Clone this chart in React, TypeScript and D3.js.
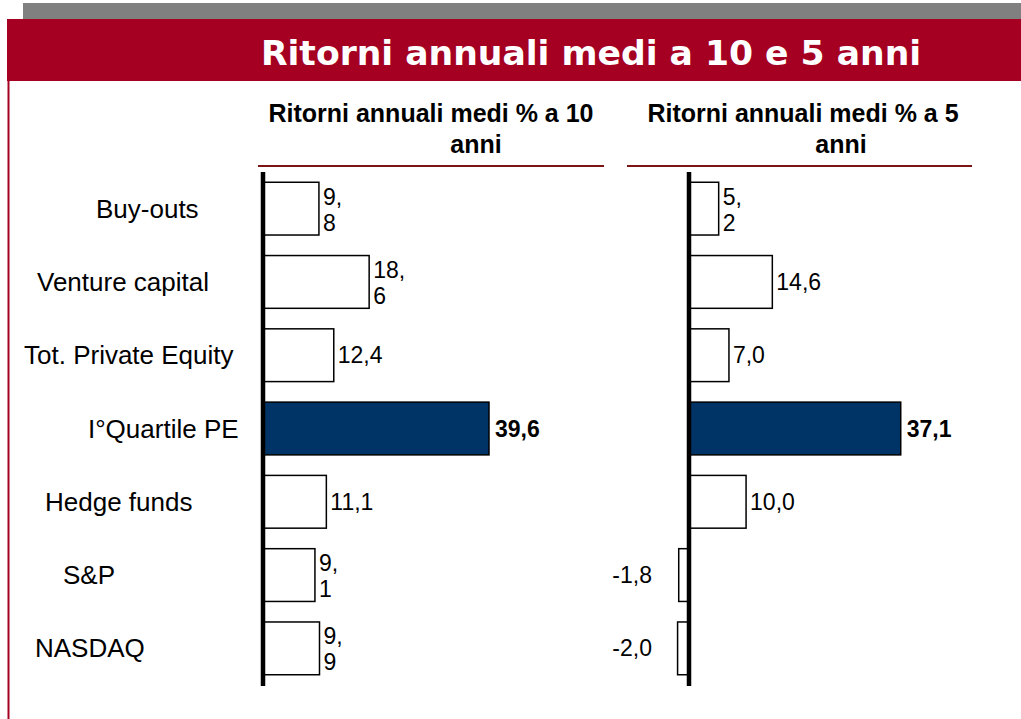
import React from "react";
import * as d3 from "d3";

const categories = ["Buy-outs", "Venture capital", "Tot. Private Equity", "I°Quartile PE", "Hedge funds", "S&P", "NASDAQ"];
const returns10 = [9.8, 18.6, 12.4, 39.6, 11.1, 9.1, 9.9];
const returns5 = [5.2, 14.6, 7.0, 37.1, 10.0, -1.8, -2.0];
const wrap10 = [true, true, false, false, false, true, true];
const wrap5 = [true, false, false, false, false, false, false];
const highlight = "I°Quartile PE";
const title = "Ritorni annuali medi a 10 e 5 anni";
const header10 = ["Ritorni annuali medi % a 10", "anni"];
const header5 = ["Ritorni annuali medi % a 5", "anni"];
// layout: x start of each category label
const labelX = [96, 37, 24, 88, 45, 63, 35];

const W = 1021, H = 719;
const RED = "#A50021";
const NAVY = "#003366";
const FONT = "'Liberation Sans', Arial, sans-serif";

const y = d3.scaleBand<string>().domain(categories).range([172, 685]).paddingInner(0.28).paddingOuter(0.14);
const fmt = (v: number) => v.toFixed(1).replace(".", ",");

function Panel({ values, wraps, zeroX, header, hdrX, lineX }: any) {
  const x = d3.scaleLinear().domain([0, 39.6]).range([zeroX, zeroX + 226]);
  return (
    <g>
      <text x={hdrX[0]} y={122} textAnchor="middle" fontFamily={FONT} fontWeight="bold" fontSize={25} fill="#000">{header[0]}</text>
      <text x={hdrX[1]} y={153} textAnchor="middle" fontFamily={FONT} fontWeight="bold" fontSize={25} fill="#000">{header[1]}</text>
      <line x1={lineX[0]} x2={lineX[1]} y1={166} y2={166} stroke="#7B1414" strokeWidth={2} />
      {categories.map((c, i) => {
        const v = values[i];
        const x0 = Math.min(x(0), x(v));
        const w = Math.abs(x(v) - x(0));
        const yy = y(c)!;
        const bw = y.bandwidth();
        const hl = c === highlight;
        const cy = yy + bw / 2;
        const s = fmt(v);
        let label;
        if (v < 0) {
          label = <text x={x(0) - 37} y={cy + 8} textAnchor="end" fontFamily={FONT} fontSize={23}>{s}</text>;
        } else if (wraps[i]) {
          const [a, b] = s.split(",");
          label = (
            <text fontFamily={FONT} fontSize={23}>
              <tspan x={x(v) + 4} y={cy - 4}>{a + ","}</tspan>
              <tspan x={x(v) + 4} y={cy + 22}>{b}</tspan>
            </text>
          );
        } else {
          label = <text x={x(v) + (hl ? 6 : 4)} y={cy + 8} fontFamily={FONT} fontSize={23} fontWeight={hl ? "bold" : "normal"}>{s}</text>;
        }
        return (
          <g key={c}>
            <rect x={x0} y={yy} width={w} height={bw} fill={hl ? NAVY : "#fff"} stroke="#000" strokeWidth={1.5} />
            {label}
          </g>
        );
      })}
      <line x1={x(0)} x2={x(0)} y1={172} y2={686} stroke="#000" strokeWidth={4.5} />
    </g>
  );
}

export default function App() {
  return (
    <svg width={W} height={H} style={{ position: "absolute", left: 0, top: 0, background: "#fff" }}>
      <rect x={0} y={0} width={W} height={H} fill="#fff" />
      <rect x={23} y={3} width={W - 23} height={16} fill="#808080" />
      <rect x={7} y={19} width={W - 7} height={62} fill={RED} />
      <line x1={8.5} x2={8.5} y1={81} y2={H} stroke={RED} strokeWidth={2} />
      <text x={591} y={65} textAnchor="middle" fill="#fff" fontFamily="'DejaVu Sans', sans-serif" fontWeight="bold" fontSize={34.6}>{title}</text>
      {categories.map((c, i) => (
        <text key={c} x={labelX[i]} y={y(c)! + y.bandwidth() / 2 + 9} fontFamily={FONT} fontSize={26} fill="#000">{c}</text>
      ))}
      <Panel values={returns10} wraps={wrap10} zeroX={263} header={header10} hdrX={[431, 476]} lineX={[258, 604]} />
      <Panel values={returns5} wraps={wrap5} zeroX={689} header={header5} hdrX={[803, 841]} lineX={[627, 972]} />
    </svg>
  );
}
